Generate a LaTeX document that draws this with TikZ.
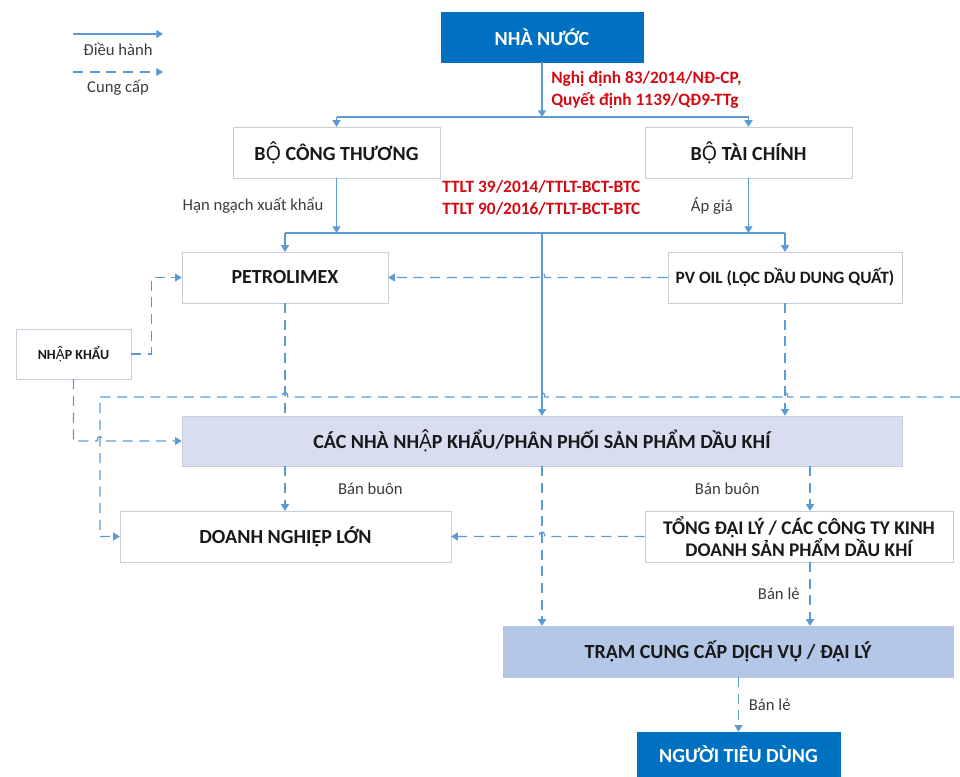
\documentclass[tikz,border=0pt]{standalone}
\usepackage{fontspec}
\setmainfont{Carlito}
\newfontfamily\vnalt{Noto Sans}
\newcommand{\Ocd}{{\vnalt Ộ}}
\newcommand{\Acd}{{\vnalt Ậ}}
\usetikzlibrary{arrows.meta,shadows,calc}
\definecolor{linecol}{RGB}{91,155,213}
\definecolor{boxline}{RGB}{200,206,216}
\definecolor{boxtext}{RGB}{25,25,25}
\definecolor{statebl}{RGB}{0,112,192}
\definecolor{distfill}{RGB}{216,222,240}
\definecolor{stafill}{RGB}{180,199,231}
\definecolor{lawred}{RGB}{210,10,20}
\definecolor{lbltext}{RGB}{60,60,60}
\tikzset{
  box/.style={draw=boxline, fill=white, text=boxtext, align=center, inner sep=2pt,
    minimum height=38pt, font=\bfseries\fontsize{15}{16}\selectfont,
    drop shadow={shadow xshift=0.8pt, shadow yshift=-0.8pt, opacity=0.2}},
  bluebox/.style={box, draw=statebl, fill=statebl, text=white},
  ctrl/.style={draw=linecol, line width=0.9pt},
  supply/.style={ctrl, dash pattern=on 7.5pt off 5pt},
  lbl/.style={text=lbltext, font=\fontsize{12.5}{15}\selectfont},
  law/.style={text=lawred, align=left, inner sep=0pt, font=\bfseries\fontsize{13}{16.5}\selectfont}
}
\begin{document}
\begin{tikzpicture}[x=0.75pt, y=-0.75pt, >={Triangle[width=6pt,length=5pt]}]
\useasboundingbox (0,0) rectangle (960,776);
% legend
\coordinate (legA) at (73,34);
\coordinate (legB) at (163,34);
\coordinate (legC) at (73,72);
\coordinate (legD) at (163,72);
\draw[ctrl,->] (legA) -- (legB);
\node[lbl] (legctrl) at (118,49) {Điều hành};
\draw[supply,->] (legC) -- (legD);
\node[lbl] (legsup) at (118,88) {Cung cấp};
% boxes
\node[bluebox, minimum width=151.5pt, minimum height=37.5pt] (nn) at (542,37) {NHÀ NƯỚC};
\node[box, minimum width=155pt] (bct) at (336.5,152.5) {B\Ocd{} CÔNG THƯƠNG};
\node[box, minimum width=155pt] (btc) at (748.5,152.5) {B\Ocd{} TÀI CHÍNH};
\node[box, minimum width=154.5pt] (petro) at (285,277.5) {PETROLIMEX};
\node[box, minimum width=175.5pt, font=\bfseries\fontsize{13}{15}\selectfont] (pvoil) at (785,277.5) {PV OIL (LỌC DẦU DUNG QUẤT)};
\node[box, minimum width=86pt, minimum height=37.5pt, font=\bfseries\fontsize{10.5}{12}\selectfont] (nk) at (73.5,354) {NH\Acd{}P KHẨU};
\node[box, fill=distfill, minimum width=540pt, minimum height=37.5pt] (cacnha) at (542,441) {CÁC NHÀ NH\Acd{}P KHẨU/PHÂN PHỐI SẢN PHẨM DẦU KHÍ};
\node[box, minimum width=248pt] (dnl) at (285.5,536.5) {DOANH NGHIỆP LỚN};
\node[box, minimum width=231pt, font=\bfseries\fontsize{14.5}{16}\selectfont] (tdl) at (799,536.5) {TỔNG ĐẠI LÝ / CÁC CÔNG TY KINH\\DOANH SẢN PHẨM DẦU KHÍ};
\node[box, fill=stafill, draw=stafill, minimum width=337.5pt] (tram) at (728,651.5) {TRẠM CUNG CẤP DỊCH VỤ / ĐẠI LÝ};
\node[bluebox, minimum width=152pt, minimum height=33pt] (ntd) at (738.5,754) {NGƯỜI TIÊU DÙNG};
% legal texts
\node[law, anchor=west] (lawA) at (551,89.5) {Nghị định 83/2014/NĐ-CP,\\Quyết định 1139/QĐ9-TTg};
\node[law, anchor=west] (lawB) at (442,197.5) {TTLT 39/2014/TTLT-BCT-BTC\\TTLT 90/2016/TTLT-BCT-BTC};
% control lines
\coordinate (busA) at (542,117);
\coordinate (busB) at (542,233);
\draw[ctrl,->] (nn) -- (busA);
\draw[ctrl] (bct.north |- busA) -- (btc.north |- busA);
\draw[ctrl,->] (bct.north |- busA) -- (bct.north);
\draw[ctrl,->] (btc.north |- busA) -- (btc.north);
\draw[ctrl,->] (bct) -- (bct.south |- busB) node[lbl, midway, left=6pt] (quota) {Hạn ngạch xuất khẩu};
\draw[ctrl,->] (btc) -- (btc.south |- busB) node[lbl, midway, left=8pt] (price) {Áp giá};
\draw[ctrl] (petro.north |- busB) -- (pvoil.north |- busB);
\draw[ctrl,->] (petro.north |- busB) -- (petro.north);
\draw[ctrl,->] (pvoil.north |- busB) -- (pvoil.north);
\draw[ctrl,->] (busB) -- (cacnha.north -| busB);
% supply lines
\draw[supply,->] (pvoil.west)
  -- ($(busB |- pvoil.west)+(3,0)$) .. controls +(0,-6) and +(0,-6) .. ($(busB |- pvoil.west)+(-3,0)$)
  -- (petro.east);
\draw[supply,->] (nk.east) -- ++(20,0) |- (petro.west);
\coordinate (loopR) at (960,397);
\coordinate (loopL) at (100,397);
\draw[supply,->] (loopR)
  -- ($(pvoil.south |- loopR)+(3,0)$) .. controls +(0,-6) and +(0,-6) .. ($(pvoil.south |- loopR)+(-3,0)$)
  -- ($(busB |- loopR)+(3,0)$) .. controls +(0,-6) and +(0,-6) .. ($(busB |- loopR)+(-3,0)$)
  -- ($(petro.south |- loopR)+(3,0)$) .. controls +(0,-6) and +(0,-6) .. ($(petro.south |- loopR)+(-3,0)$)
  -- (loopL) |- (dnl.west);
\draw[supply,->] (nk.south) |- ($(loopL |- cacnha.west)+(-3,0)$)
  .. controls +(0,-6) and +(0,-6) .. ($(loopL |- cacnha.west)+(3,0)$) -- (cacnha.west);
\draw[supply] (petro.south) -- (petro.south |- cacnha.north);
\draw[supply,->] (pvoil.south) -- (pvoil.south |- cacnha.north);
\draw[supply,->] (petro.south |- cacnha.south) -- (petro.south |- dnl.north) node[lbl, midway, right=36pt] (whsA) {Bán buôn};
\coordinate (wsR) at (810,466);
\draw[supply,->] (wsR) -- (wsR |- tdl.north) node[lbl, midway, left=34pt] (whsB) {Bán buôn};
\draw[supply,->] (wsR |- tdl.south) -- (wsR |- tram.north) node[lbl, midway, left=4pt] (retA) {Bán lẻ};
\draw[supply,->] (cacnha.south -| busB) -- (tram.north -| busB);
\draw[supply,->] (tdl.west)
  -- ($(busB |- tdl.west)+(3,0)$) .. controls +(0,-6) and +(0,-6) .. ($(busB |- tdl.west)+(-3,0)$)
  -- (dnl.east);
\draw[supply,->] (ntd.north |- tram.south) -- (ntd.north) node[lbl, midway, right=4pt] (retB) {Bán lẻ};
\end{tikzpicture}
\end{document}
